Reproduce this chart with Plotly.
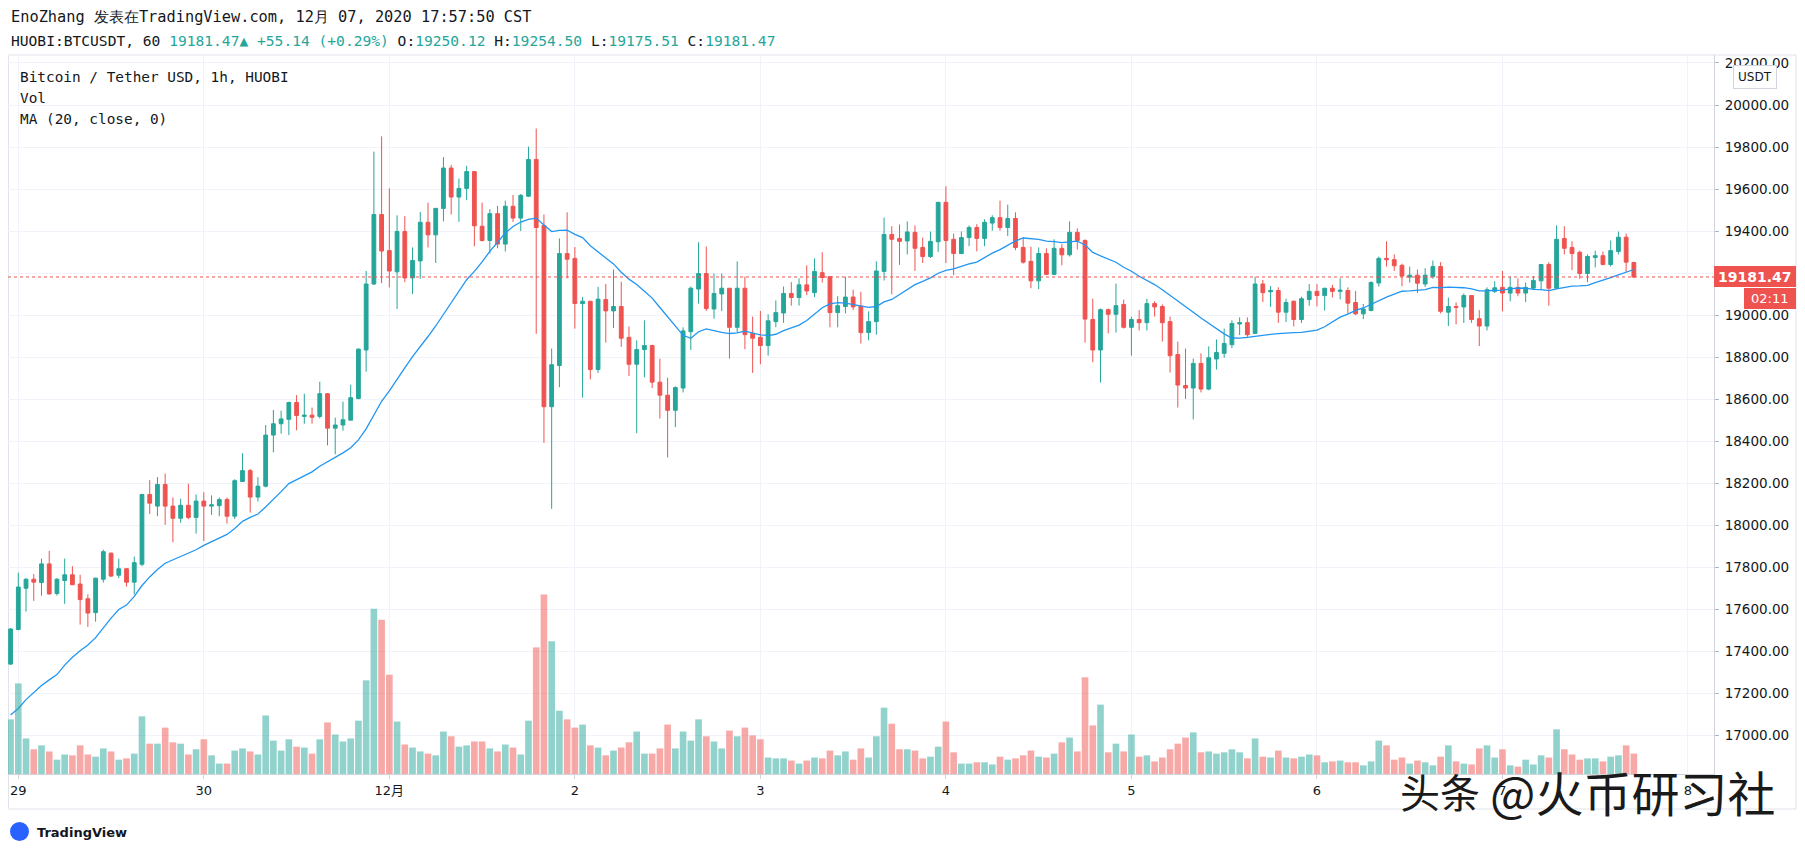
import pandas as pd
import plotly.graph_objects as go

# ---------------- data (1h candles, HUOBI BTCUSDT) ----------------
start_time = "2020-11-28 23:00"

opens = [17339, 17504, 17700, 17743, 17727, 17816, 17675, 17737, 17764, 17720, 17650, 17584, 17743, 17867, 17762, 17793, 17729, 17814, 18146,
         18091, 18194, 18091, 18033, 18095, 18037, 18115, 18091, 18093, 18122, 18043, 18208, 18260, 18134, 18186, 18429, 18483, 18504, 18584, 18518,
         18524, 18518, 18626, 18462, 18477, 18500, 18603, 18834, 19148, 19479, 19307, 19206, 19398, 19177, 19258, 19442, 19382, 19508, 19700,
         19562, 19603, 19683, 19423, 19355, 19483, 19338, 19518, 19462, 19566, 19741, 19427, 18564, 18760, 19293, 19270, 19055, 19066, 18741,
         19074, 19020, 19041, 18894, 18766, 18836, 18855, 18681, 18619, 18547, 18653, 18921, 19124, 19198, 19029, 19101, 19128, 18942, 19128, 18913,
         18894, 18855, 18969, 19010, 19103, 19084, 19144, 19107, 19202, 19183, 19012, 19041, 19086, 19043, 18917, 18969, 19208, 19384, 19365, 19353,
         19394, 19322, 19279, 19349, 19537, 19361, 19293, 19369, 19417, 19365, 19438, 19464, 19417, 19460, 19322, 19256, 19163, 19293, 19194,
         19318, 19287, 19394, 19355, 18979, 18834, 19026, 19004, 19051, 18942, 18979, 18964, 19055, 19041, 18969, 18812, 18665, 18653, 18770,
         18648, 18791, 18818, 18859, 18958, 18964, 18913, 19148, 19111, 19117, 19014, 19066, 18979, 19074, 19113, 19093, 19128, 19113, 19117, 19060,
         19006, 19022, 19153, 19270, 19264, 19237, 19181, 19190, 19148, 19183, 19231, 19014, 19041, 19039, 19093, 18983, 18948, 19113, 19132,
         19105, 19132, 19105, 19128, 19163, 19241, 19128, 19365, 19322, 19299, 19198, 19274, 19283, 19241, 19303, 19371, 19250.12]

highs = [17510, 17774, 17748, 17768, 17841, 17878, 17748, 17841, 17805, 17764, 17671, 17750, 17884, 17870, 17841, 17795, 17851, 18150, 18215,
         18229, 18246, 18132, 18126, 18198, 18146, 18157, 18142, 18132, 18132, 18219, 18343, 18268, 18229, 18477, 18549, 18545, 18588, 18619, 18626,
         18560, 18683, 18628, 18512, 18588, 18669, 18842, 19210, 19778, 19851, 19603, 19475, 19471, 19322, 19491, 19535, 19510, 19752, 19715,
         19650, 19710, 19683, 19535, 19504, 19520, 19545, 19572, 19576, 19802, 19888, 19479, 18841, 19365, 19489, 19324, 19086, 19068, 19134,
         19148, 19217, 19159, 18946, 18880, 18975, 18859, 18793, 18702, 18661, 18942, 19136, 19347, 19326, 19198, 19198, 19128, 19256, 19183, 18993,
         19020, 19004, 19070, 19136, 19157, 19175, 19237, 19270, 19299, 19183, 19090, 19183, 19121, 19111, 19018, 19256, 19464, 19423, 19431, 19446,
         19427, 19369, 19398, 19537, 19613, 19388, 19398, 19427, 19433, 19456, 19475, 19545, 19526, 19489, 19371, 19326, 19322, 19318, 19361,
         19338, 19446, 19413, 19361, 19078, 19031, 19031, 19150, 19074, 18993, 19024, 19078, 19066, 19051, 18993, 18874, 18841, 18793, 18818,
         18851, 18884, 18936, 18975, 18989, 18989, 19183, 19167, 19138, 19132, 19078, 19070, 19088, 19148, 19148, 19128, 19144, 19175, 19132, 19115,
         19053, 19161, 19279, 19351, 19289, 19245, 19231, 19217, 19223, 19260, 19252, 19084, 19060, 19103, 19093, 19024, 19132, 19161, 19210,
         19183, 19175, 19155, 19186, 19241, 19252, 19427, 19423, 19351, 19307, 19289, 19307, 19303, 19355, 19398, 19388, 19254.50]

lows = [17335, 17500, 17589, 17640, 17665, 17670, 17665, 17626, 17715, 17527, 17516, 17541, 17727, 17754, 17748, 17708, 17671, 17805, 18053,
        18043, 18002, 17919, 18012, 18029, 17960, 17925, 18049, 18043, 18008, 18029, 18208, 18060, 18113, 18180, 18347, 18436, 18429, 18452, 18483,
        18483, 18508, 18380, 18338, 18450, 18500, 18599, 18731, 19144, 19152, 19132, 19029, 19157, 19101, 19173, 19322, 19248, 19446, 19479,
        19444, 19547, 19328, 19351, 19293, 19318, 19303, 19444, 19400, 19562, 18911, 18392, 18078, 18657, 19175, 18936, 18607, 18694, 18725,
        18869, 18938, 18849, 18710, 18438, 18704, 18653, 18508, 18322, 18467, 18632, 18834, 19055, 19020, 18983, 19020, 18793, 18917, 18838, 18725,
        18766, 18807, 18942, 18963, 19045, 19045, 19095, 19086, 19155, 18942, 18942, 19008, 19024, 18865, 18880, 18907, 19165, 19099, 19239, 19289,
        19210, 19248, 19272, 19301, 19248, 19190, 19290, 19328, 19303, 19328, 19402, 19402, 19376, 19309, 19245, 19128, 19124, 19190, 19190,
        19237, 19279, 19312, 18869, 18776, 18679, 18913, 18917, 18936, 18807, 18927, 18927, 18993, 18874, 18727, 18560, 18601, 18504, 18632,
        18642, 18741, 18797, 18843, 18905, 18896, 18913, 19062, 19039, 18963, 18967, 18946, 18963, 19045, 19041, 19022, 19084, 19074, 19008, 19000,
        18981, 19018, 19136, 19231, 19210, 19138, 19155, 19105, 19134, 19173, 19008, 18948, 18956, 18963, 18963, 18853, 18927, 19105, 19018,
        19066, 19090, 19062, 19119, 19119, 19045, 19128, 19289, 19214, 19173, 19157, 19227, 19237, 19231, 19289, 19206, 19175.51]

closes = [17506, 17706, 17743, 17729, 17816, 17673, 17743, 17764, 17717, 17646, 17582, 17748, 17874, 17758, 17793, 17729, 17822, 18146, 18105,
          18194, 18091, 18033, 18095, 18037, 18115, 18091, 18097, 18122, 18043, 18212, 18260, 18134, 18186, 18429, 18483, 18506, 18584, 18522, 18524,
          18514, 18626, 18462, 18477, 18502, 18607, 18838, 19148, 19479, 19305, 19210, 19398, 19177, 19260, 19442, 19382, 19508, 19700, 19562,
          19603, 19683, 19425, 19355, 19483, 19338, 19518, 19462, 19570, 19741, 19417, 18564, 18764, 19293, 19266, 19055, 19066, 18741, 19076,
          19020, 19041, 18890, 18766, 18836, 18855, 18681, 18619, 18547, 18655, 18925, 19128, 19198, 19031, 19103, 19128, 18942, 19128, 18907, 18890,
          18855, 18973, 19012, 19103, 19084, 19144, 19115, 19208, 19179, 19012, 19045, 19086, 19039, 18917, 18969, 19210, 19384, 19361, 19351, 19396,
          19318, 19279, 19351, 19537, 19355, 19293, 19369, 19417, 19365, 19442, 19464, 19417, 19460, 19322, 19252, 19163, 19293, 19194, 19318,
          19287, 19394, 19355, 18981, 18834, 19026, 19004, 19045, 18942, 18979, 18964, 19055, 19039, 18964, 18807, 18667, 18653, 18770, 18648,
          18797, 18822, 18865, 18960, 18964, 18907, 19148, 19107, 19117, 19014, 19060, 18979, 19078, 19113, 19093, 19128, 19113, 19119, 19057, 19006,
          19029, 19155, 19270, 19264, 19235, 19186, 19190, 19152, 19190, 19231, 19018, 19041, 19037, 19093, 18979, 18948, 19121, 19130, 19105,
          19132, 19105, 19132, 19165, 19241, 19128, 19361, 19318, 19293, 19198, 19279, 19283, 19241, 19307, 19371, 19252, 19181.47]

volumes = [126, 209, 82, 57, 66, 52, 33, 45, 43, 66, 45, 40, 59, 52, 33, 36, 47, 133, 70,
           70, 107, 73, 70, 45, 57, 80, 43, 24, 24, 54, 59, 52, 45, 135, 77, 54, 80, 63, 61,
           47, 80, 119, 91, 75, 82, 123, 216, 381, 356, 229, 121, 68, 61, 52, 47, 43, 98, 87,
           63, 66, 75, 75, 59, 52, 68, 61, 45, 123, 292, 414, 306, 146, 126, 107, 114, 66, 61,
           43, 54, 61, 73, 98, 47, 47, 59, 114, 59, 98, 77, 126, 87, 75, 59, 100, 87, 107, 89,
           80, 38, 36, 36, 31, 24, 31, 38, 36, 54, 43, 52, 33, 59, 38, 87, 153, 116, 57, 57,
           54, 36, 40, 63, 121, 50, 24, 24, 27, 27, 22, 40, 33, 36, 43, 54, 40, 38, 47,
           73, 84, 52, 223, 112, 160, 50, 70, 52, 91, 40, 43, 29, 38, 57, 70, 84, 96, 50,
           52, 47, 50, 57, 50, 36, 82, 40, 38, 54, 38, 36, 40, 45, 43, 27, 29, 31, 27, 27,
           20, 29, 77, 66, 33, 38, 24, 31, 27, 20, 40, 66, 29, 24, 22, 59, 66, 38, 57,
           20, 17, 33, 22, 43, 38, 103, 57, 45, 33, 36, 36, 29, 40, 43, 66, 47]

# MA(20) values for the first 19 candles (history before the window)
ma_early = [17097, 17128, 17170, 17202, 17237, 17264, 17289, 17334, 17372, 17403,
            17430, 17465, 17512, 17558, 17599, 17620, 17661, 17713, 17754]

day_ticks = ["2020-11-29", "2020-11-30", "2020-12-01", "2020-12-02", "2020-12-03",
             "2020-12-04", "2020-12-05", "2020-12-06", "2020-12-07", "2020-12-08"]
day_labels = ["29", "30", "12月", "2", "3", "4", "5", "6", "7", "8"]

price_ticks = [17000, 17200, 17400, 17600, 17800, 18000, 18200, 18400, 18600,
               18800, 19000, 19200, 19400, 19600, 19800, 20000, 20200]

last_price = 19181.47

n = len(closes)
assert len(opens) == n and len(highs) == n and len(lows) == n and len(volumes) == n

times = pd.date_range(start_time, periods=n, freq="h")
close_s = pd.Series(closes, dtype=float)
ma = close_s.rolling(20).mean()
ma.iloc[:len(ma_early)] = ma_early

UP, DOWN = "#26a69a", "#ef5350"
vol_colors = ["rgba(38,166,154,0.5)" if c >= o else "rgba(239,83,80,0.5)" for o, c in zip(opens, closes)]

# ---------------- geometry helpers (page pixel -> paper) ----------------
# The html body has an 8px default margin, so the figure is offset by 8px.
OFF = 8
W, H = 1805 - OFF, 856 - OFF
PL, PR, PT, PB = 8, 1714, 55, 774          # plot area in page pixels
def xp(px):
    return (px - PL) / (PR - PL)
def yp(py):
    return (PB - py) / (PB - PT)

MONO = "DejaVu Sans Mono"
SANS = "DejaVu Sans, Noto Sans CJK SC"
TXT = "#131722"

fig = go.Figure()
fig.add_trace(go.Bar(x=times, y=volumes, marker=dict(color=vol_colors, line=dict(width=0)),
                     yaxis="y2", hoverinfo="skip"))
fig.add_trace(go.Candlestick(x=times, open=opens, high=highs, low=lows, close=closes,
                             increasing=dict(line=dict(color=UP, width=1), fillcolor=UP),
                             decreasing=dict(line=dict(color=DOWN, width=1), fillcolor=DOWN),
                             whiskerwidth=0))
fig.add_trace(go.Scatter(x=times, y=ma, mode="lines", line=dict(color="#2196f3", width=1.3)))

x_left = pd.Timestamp("2020-11-29") + pd.Timedelta(hours=(PL - 18.3) / 7.73)
x_right = pd.Timestamp("2020-11-29") + pd.Timedelta(hours=(PR - 18.3) / 7.73)

fig.update_layout(
    width=W, height=H,
    margin=dict(l=PL - OFF, r=W - (PR - OFF), t=PT - OFF, b=H - (PB - OFF)),
    paper_bgcolor="white", plot_bgcolor="white",
    showlegend=False, bargap=0.14, boxgap=0.3,
    font=dict(family=SANS, size=13, color=TXT),
    xaxis=dict(type="date", range=[x_left, x_right], tickvals=day_ticks, ticktext=day_labels,
               showgrid=True, gridcolor="#f0f3fa", gridwidth=1, zeroline=False,
               ticks="outside", ticklen=4, tickcolor="#d1d4dc",
               showline=True, linecolor="#d1d4dc", linewidth=1,
               rangeslider=dict(visible=False), tickfont=dict(size=13, color=TXT, family=SANS)),
    yaxis=dict(side="right", range=[16816, 20238], tickvals=price_ticks,
               ticktext=["" if v == 19200 else f"{v:.2f}" for v in price_ticks],
               showgrid=True, gridcolor="#f0f3fa", gridwidth=1, zeroline=False,
               ticks="outside", ticklen=4, tickcolor="#b2b5be",
               showline=True, linecolor="#d1d4dc", linewidth=1,
               ticklabelstandoff=3,
               tickfont=dict(size=13.5, color=TXT, family=SANS)),
    yaxis2=dict(overlaying="y", range=[0, 414 * (PB - PT) / 179.5], visible=False, fixedrange=True),
)

shapes = []
# outer frame
shapes.append(dict(type="rect", xref="paper", yref="paper", x0=xp(8.5), x1=xp(1796), y0=yp(809), y1=yp(55),
                   line=dict(color="#e0e3eb", width=1), fillcolor="rgba(0,0,0,0)", layer="below"))
# last price dotted line
shapes.append(dict(type="line", xref="paper", yref="y", x0=0, x1=1, y0=last_price, y1=last_price,
                   line=dict(color=DOWN, width=1, dash="dot")))
# last price label boxes
shapes.append(dict(type="rect", xref="paper", yref="paper", x0=xp(1714), x1=xp(1796), y0=yp(287), y1=yp(266),
                   line=dict(width=0), fillcolor=DOWN, layer="above"))
shapes.append(dict(type="rect", xref="paper", yref="paper", x0=xp(1744), x1=xp(1796), y0=yp(309), y1=yp(288),
                   line=dict(width=0), fillcolor=DOWN, layer="above"))
# logo mark
shapes.append(dict(type="circle", xref="paper", yref="paper", x0=xp(11), x1=xp(28), y0=yp(840), y1=yp(823),
                   line=dict(color="#2962ff", width=2), fillcolor="#2962ff"))
fig.update_layout(shapes=shapes)

ann = []
def text(px, py, s, size=13, color=TXT, family=MONO, anchor="left", **kw):
    ann.append(dict(xref="paper", yref="paper", x=xp(px), y=yp(py), text=s, showarrow=False,
                    xanchor=anchor, yanchor="middle", font=dict(size=size, color=color, family=family), **kw))

text(9, 17, "EnoZhang 发表在TradingView.com, 12月 07, 2020 17:57:50 CST", size=15.3)
g = UP
line2 = ("HUOBI:BTCUSDT, 60 "
         f"<span style='color:{g}'>19181.47▲ +55.14 (+0.29%)</span> "
         f"O:<span style='color:{g}'>19250.12</span> H:<span style='color:{g}'>19254.50</span> "
         f"L:<span style='color:{g}'>19175.51</span> C:<span style='color:{g}'>19181.47</span>")
text(9, 41, line2, size=14.6)
text(18, 77, "Bitcoin / Tether USD, 1h, HUOBI", size=14.4)
text(18, 98, "Vol", size=14.4)
text(18, 119, "MA (20, close, 0)", size=14.4)

text(1755, 276.5, "<b>19181.47</b>", size=14, color="white", family=SANS, anchor="center")
text(1770, 298.5, "02:11", size=13, color="white", family=SANS, anchor="center")
ann.append(dict(xref="paper", yref="paper", x=xp(1755), y=yp(76.5), text="USDT", showarrow=False,
                xanchor="center", yanchor="middle", font=dict(size=12, color=TXT, family=SANS),
                bgcolor="white", bordercolor="#d1d4dc", borderwidth=1, borderpad=4))

# watermark & logo text
text(1398, 791, "头条", size=40, color="#1a1a1a", family="Noto Sans CJK SC")
text(1488, 791, "@火币研习社", size=48, color="#1a1a1a", family="Noto Sans CJK SC")
text(35, 832, "<b>TradingView</b>", size=13, color=TXT, family=SANS)
fig.update_layout(annotations=ann)

fig.write_html("out.html")
